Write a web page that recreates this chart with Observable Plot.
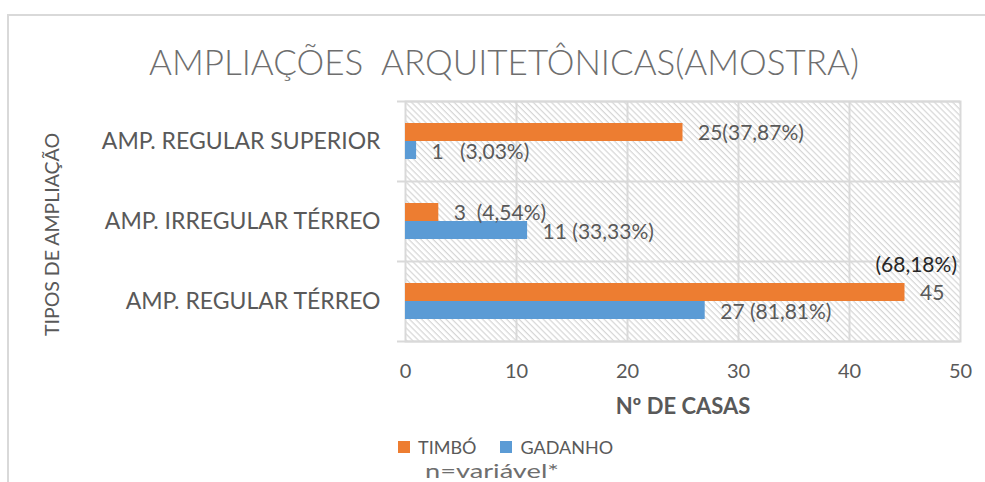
<!DOCTYPE html>
<html>
<head>
<meta charset="utf-8">
<script src="https://cdn.jsdelivr.net/npm/d3@7"></script>
<script src="https://cdn.jsdelivr.net/npm/@observablehq/plot@0.6"></script>
<style>
  html, body { margin: 0; padding: 0; background: #fff; }
  #chart { position: relative; width: 985px; height: 482px; overflow: hidden; font-family: Lato, "Open Sans", sans-serif; }
  #chart svg { position: absolute; left: 0; top: 0; }
  #chart svg text { white-space: pre; }
  .frame { position: absolute; left: 7px; top: 14px; right: -10px; bottom: -10px; border-left: 2px solid #d9d9d9; border-top: 2px solid #d9d9d9; }
  .title { position: absolute; left: 0; width: 1008px; top: 44px; text-align: center; font-size: 35px; line-height: 1; font-weight: 300; color: #6e6e6e; white-space: pre; }
  .legend { position: absolute; left: 398px; top: 438px; display: flex; align-items: center; font-size: 18px; line-height: 1; color: #595959; }
  .legend .sw { width: 12px; height: 12px; display: inline-block; margin-right: 8px; }
  .legend .item { display: flex; align-items: center; margin-right: 24px; }
  .note { position: absolute; left: 425px; top: 460px; font-size: 20px; line-height: 1; color: #6e6e6e; transform: scaleX(1.36); transform-origin: left center; }
</style>
</head>
<body>
<div id="chart">
  <div class="frame"></div>
</div>
<script>
// ---- data ----
const categories = ["AMP. REGULAR TÉRREO", "AMP. IRREGULAR TÉRREO", "AMP. REGULAR SUPERIOR"];
const series = ["TIMBÓ", "GADANHO"];
const seriesColors = ["#ED7D31", "#5B9BD5"];
const timbo = [45, 3, 25];
const gadanho = [27, 11, 1];
const timboLabels = ["45", "3  (4,54%)", "25(37,87%)"];
const gadanhoLabels = ["27 (81,81%)", "11 (33,33%)", "1   (3,03%)"];
const timboNotes = ["(68,18%)", "", ""];
const xTicks = [0, 10, 20, 30, 40, 50];
const chartTitle = "AMPLIAÇÕES  ARQUITETÔNICAS(AMOSTRA)";
const xTitle = "Nº DE CASAS";
const yTitle = "TIPOS DE AMPLIAÇÃO";
const footNote = "n=variável*";

// ---- tables ----
const timboRows = categories.map((c, i) => ({cat: c, value: timbo[i], label: timboLabels[i], note: timboNotes[i]}));
const gadanhoRows = categories.map((c, i) => ({cat: c, value: gadanho[i], label: gadanhoLabels[i]}));
const grid = "#d9d9d9";

const svg = Plot.plot({
  width: 985,
  height: 482,
  marginLeft: 405,
  marginRight: 25,
  marginTop: 101,
  marginBottom: 141,
  style: {fontFamily: "Lato, 'Open Sans', sans-serif", color: "#595959", background: "transparent", overflow: "visible"},
  x: {domain: [0, 50]},
  y: {domain: categories.slice().reverse(), padding: 0},
  marks: [
    Plot.frame({fill: "url(#hatch)", stroke: grid, strokeWidth: 2}),
    Plot.gridX({ticks: xTicks.slice(1, -1), stroke: grid, strokeOpacity: 1, strokeWidth: 2}),
    Plot.ruleY(categories, {y: d => d, x1: 0, x2: 50, insetLeft: -8, dy: -40, stroke: grid, strokeWidth: 2}),
    Plot.ruleY(categories.slice(0, 1), {y: d => d, x1: 0, x2: 50, insetLeft: -8, dy: 40, stroke: grid, strokeWidth: 2}),
    Plot.barX(timboRows, {x: "value", y: "cat", fill: seriesColors[0], insetTop: 22, insetBottom: 40}),
    Plot.barX(gadanhoRows, {x: "value", y: "cat", fill: seriesColors[1], insetTop: 40, insetBottom: 22}),
    Plot.text(timboRows, {x: "value", y: "cat", text: "label", textAnchor: "start", dx: 15, dy: -8, fontSize: 21, ariaLabel: "vlabels"}),
    Plot.text(gadanhoRows, {x: "value", y: "cat", text: "label", textAnchor: "start", dx: 15, dy: 11, fontSize: 21, ariaLabel: "vlabels"}),
    Plot.text(timboRows.filter(d => d.note), {x: "value", y: "cat", text: "note", textAnchor: "end", dx: 52, dy: -36, fontSize: 21, fill: "#262626"}),
    Plot.axisX({ticks: xTicks, tickSize: 0, tickPadding: 22, fontSize: 20, label: null}),
    Plot.axisY({tickSize: 0, tickPadding: 25, fontSize: 23, label: null}),
    Plot.text([xTitle], {text: d => d, frameAnchor: "bottom", dy: 72, fontSize: 22, fontWeight: "bold"}),
    Plot.text([yTitle], {text: d => d, frameAnchor: "left", textAnchor: "middle", rotate: -90, dx: -353, dy: 13, fontSize: 19.5})
  ]
});

d3.select(svg).insert("defs", ":first-child").html(
  `<pattern id="hatch" patternUnits="userSpaceOnUse" width="4.3" height="4.3" patternTransform="rotate(45)">
     <rect width="4.3" height="4.3" fill="#ffffff"></rect>
     <line x1="0" y1="0.6" x2="4.3" y2="0.6" stroke="#d6d6d6" stroke-width="1.2"></line>
   </pattern>`
);

// color the number and percentage parts of each value label
d3.select(svg).selectAll('g[aria-label="vlabels"] text').each(function() {
  const s = this.textContent;
  const m = s.match(/^(\d*)(\s*)(.*)$/);
  const el = d3.select(this);
  el.text(null);
  el.append("tspan").attr("fill", "#595959").text(m[1] + m[2]);
  if (m[3]) el.append("tspan").attr("fill", "#262626").text(m[3]);
});

const chart = document.getElementById("chart");
chart.appendChild(svg);

const title = document.createElement("div");
title.className = "title";
title.textContent = chartTitle;
chart.appendChild(title);

const legend = document.createElement("div");
legend.className = "legend";
series.forEach((s, i) => {
  const item = document.createElement("span");
  item.className = "item";
  const sw = document.createElement("span");
  sw.className = "sw";
  sw.style.background = seriesColors[i];
  item.appendChild(sw);
  item.appendChild(document.createTextNode(s));
  legend.appendChild(item);
});
chart.appendChild(legend);

const note = document.createElement("div");
note.className = "note";
note.textContent = footNote;
chart.appendChild(note);
</script>
</body>
</html>
